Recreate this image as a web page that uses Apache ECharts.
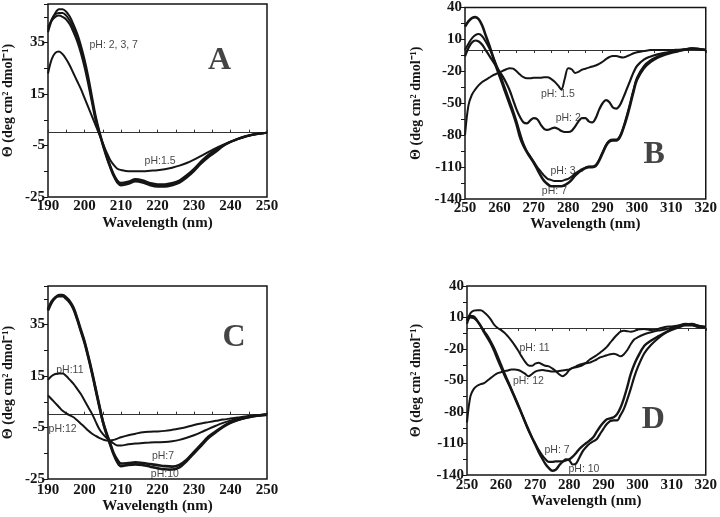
<!DOCTYPE html>
<html>
<head>
<meta charset="utf-8">
<script src="https://cdn.jsdelivr.net/npm/echarts@6/dist/echarts.min.js"></script>
<style>html,body{margin:0;padding:0;background:#fff;}#c{width:720px;height:517px;}</style>
</head>
<body>
<div id="c"></div>
<script>
// ---------- Panel A / C (far-UV) ----------
const xFar = [190,191,192,193,194,195,196,197,198,199,200,201,202,203,204,205,206,207,208,209,210,212,214,216,218,220,222,224,226,228,230,232,234,236,238,240,242,244,246,248,250];
const A_pH2  = [39,43.5,46.5,48,48,47,45,42,38.5,34,28.5,22,14.5,7,1,-4,-8.5,-12.5,-16,-18.5,-19.5,-19,-18,-18.5,-19.5,-20,-20,-19.5,-18.5,-16.5,-14,-11,-8.5,-6.5,-4.8,-3.5,-2.3,-1.4,-0.7,-0.3,0];
const A_pH3  = [40,44,46,46.5,46.5,45.5,43.5,40.5,37,32.5,27,20.5,13,6,0.5,-4.5,-9,-13,-16.5,-19,-20,-19.5,-18.5,-19,-20,-20.5,-20.5,-20,-19,-17,-14.5,-11.5,-9,-7,-5,-3.6,-2.4,-1.5,-0.8,-0.3,0];
const A_pH7  = [41,43.5,45,45.5,45,44,42,39,35.5,31,25.5,19,12,5,0,-5,-9.5,-13.5,-17,-19.5,-20.5,-20,-19,-19.5,-20.5,-21,-21,-20.5,-19.5,-17.5,-15,-12,-9.5,-7.5,-5.2,-3.7,-2.5,-1.6,-0.8,-0.3,0];
const A_pH15 = [23,28.5,31,31.5,30.5,28.5,26,23,20,17,13.5,10,6.5,3,-0.5,-4,-7.5,-10.5,-12.5,-14,-14.5,-15,-15,-15,-14.8,-14.6,-14.2,-13.6,-12.8,-11.8,-10.5,-9,-7.5,-6,-4.7,-3.5,-2.5,-1.6,-0.9,-0.4,0];

const C_pH7  = [41,44,45.5,46,46,45,43.5,41,37,32.5,28,22.5,16.5,10,3.5,-2.5,-7,-11,-15,-17.5,-19,-18.8,-18.5,-18.8,-19.2,-19.6,-20,-20.2,-19.5,-17.5,-14.5,-11.5,-8.5,-6.5,-4.5,-3,-2,-1.2,-0.6,-0.2,0];
const C_pH10 = [40.5,43.5,45.5,46.5,46.5,45.5,44,41.5,37.5,33,28.5,23,17,10.5,4,-2.5,-7.5,-11.5,-15.5,-18.5,-20,-19.5,-19.3,-19.6,-20.2,-20.8,-21.2,-21.3,-20.5,-18,-15,-12,-9,-6.8,-4.8,-3.2,-2.1,-1.3,-0.7,-0.3,0];
const C_pH11 = [13.5,15,15.8,16,16,15,13.5,12,10,8,5.5,3,0.5,-2.5,-5.5,-7.5,-9,-10.2,-11.2,-12,-12,-11.5,-11.2,-11,-10.8,-10.7,-10.6,-10.3,-9.8,-9,-8,-6.8,-5.5,-4.3,-3.2,-2.3,-1.5,-1,-0.5,-0.2,0];
const C_pH12 = [7.5,6,4.5,3,1.5,0.5,-0.3,-1,-2.2,-3.5,-4.8,-6.2,-7.3,-8.2,-9,-9.6,-10,-10,-9.8,-9.3,-8.8,-8,-7.4,-6.8,-6.6,-6.5,-6.3,-5.9,-5.4,-4.8,-4,-3.4,-2.9,-2.4,-1.9,-1.5,-1.1,-0.7,-0.4,-0.2,0];

// ---------- Panel B / D (near-UV) ----------
const xNear = [250,251,252,253,254,255,256,257,258,259,260,261,262,263,264,265,266,267,268,269,270,271,272,273,274,275,276,277,278,279,280,281,282,283,284,285,286,287,288,289,290,291,292,293,294,295,296,297,298,299,300,302,304,306,308,310,312,314,316,318,320];
const B_pH7  = [22,27,30,31,29,23,14,5,-5,-15,-24,-33,-42,-51,-60,-70,-82,-90,-96,-101,-106,-112,-118,-123,-126,-128,-128,-128,-128,-127,-125,-122,-118,-115,-113,-111,-110,-110,-109,-104,-97,-90,-86,-85,-85,-82,-74,-64,-52,-39,-28,-17,-11,-7,-4.5,-2.5,-1,0.5,1.5,1,0];
const B_pH3  = [0,6,11,14,15,13,8,2,-5,-13,-21,-30,-39,-48,-57,-67,-78,-88,-95,-100,-105,-110,-114,-118,-121,-122,-123,-123,-123,-122,-121,-119,-116,-114,-112,-110.5,-109.5,-109.5,-108,-103,-96,-89,-85,-84,-84,-81,-73,-62,-50,-37,-26,-15,-9.5,-6,-3.5,-2,-0.5,0.8,1.5,1,0];
const B_pH2  = [-6,2,7,9,8,5,0,-5,-10,-15,-20,-25,-31,-38,-47,-56,-63,-68,-69,-66,-64,-65,-70,-74,-75,-74,-73,-74,-76,-77,-77,-76,-72,-67,-64,-64,-67,-68,-64,-56,-50,-47,-49,-54,-55,-52,-45,-37,-29,-21,-15,-9,-6,-4,-2.5,-1.5,-0.5,0.5,1.5,1,0];
const B_pH15 = [-80,-52,-42,-37,-33,-30,-28,-26,-24,-22.5,-21,-19.5,-18,-17,-17.5,-20,-23,-25.5,-26.5,-26.5,-26,-26,-26,-25.5,-25.5,-27,-29.5,-33,-37,-27,-17,-18,-21.5,-20.5,-18.5,-17.5,-16.5,-15.5,-14.5,-13,-11,-8.5,-6.5,-5.5,-5.5,-6.5,-7,-6,-4.5,-3,-2,-1,0,0,0,0,0.3,0.6,1,0.8,0];

const D_pH7  = [7,11.5,11,7,2,-4,-9.5,-15,-22,-30,-37.5,-45,-52,-59,-66.5,-74,-81.5,-89,-96.5,-104,-111,-118,-124,-129.5,-133.5,-136,-135,-131,-127.5,-126,-125,-122.5,-119,-115,-112,-109.5,-107,-104,-99,-94,-90,-87,-86,-85,-82,-76,-67,-56,-44,-35,-28,-17,-12,-8,-4.5,-1,2,3.5,3.5,1.5,0.5];
const D_pH10 = [4,10,9.5,6.5,2,-3,-7.5,-13,-19.5,-27,-35,-43,-50.5,-58,-65.5,-73,-81,-89.5,-97.5,-104,-110,-116,-121,-125,-127.5,-127.5,-127,-127,-127,-125,-126,-130,-129,-123,-117,-113,-110,-108,-106,-101,-96,-91.5,-88.5,-88,-88,-83,-77,-68,-58,-47,-38,-24,-16,-10,-5,-2,0.5,2.5,2.5,2,1];
const D_pH11 = [7,14,16.5,17,17,15,12,8,3,0,-2,-4.5,-8,-12,-16.5,-21.5,-27,-32,-35.5,-36,-34,-33,-34.5,-36,-36.5,-38.5,-41,-44,-46,-44,-40,-38,-37.5,-36.5,-35,-33,-30,-28,-26,-23.5,-21,-18,-14,-10,-6.5,-3.5,-2.5,-3,-3.5,-3,-1.5,-1,-2,-1,1,1.5,2.5,4,3,0.5,1];
const D_pH12 = [-90,-65,-58,-55,-53.5,-52.5,-50,-47.5,-45,-43,-42,-41,-40.5,-39.5,-39.5,-40,-41.5,-43.5,-46,-44,-41.5,-40.5,-40,-40.5,-41,-41.5,-41.5,-41,-40.5,-40,-39.5,-38,-36.5,-35,-34,-33.5,-33,-31.5,-30,-28,-27,-26,-25,-24.5,-25.5,-27,-25,-21,-15.5,-11,-9,-6,-4,-2.5,-1.5,0.3,1.5,3.5,4,2,1];

// ---------- Text annotations [text, x, y] ----------
const A_notes = [["pH: 2, 3, 7",208,34],["pH:1.5",220.7,-11.2]];
const B_notes = [["pH: 1.5",277,-41],["pH: 2",280,-64],["pH: 3",278.5,-114],["pH: 7",276,-133]];
const C_notes = [["pH:11",196,17.5],["pH:12",194,-5.5],["pH:7",221.5,-16],["pH:10",222,-23.2]];
const D_notes = [["pH: 11",269.8,-19.5],["pH: 12",268,-51],["pH: 7",276.4,-116.5],["pH: 10",284.3,-134]];
const panelLetters = [["A",237,28],["B",305,-98],["C",241,30],["D",304.6,-87]];

const farTicks = ["-25","-5","15","35"];
const nearTicks = ["-140","-110","-80","-50","-20","10","40"];
const xTitle = "Wavelength (nm)";
const yTitle = "\u0398 (deg cm\u00B2 dmol\u207B\u00B9)";

// ---------- Build options ----------
const serif = "Liberation Serif";
const sans = "Liberation Sans";
const ink = "#151515";

const grids = [
  {left:41, top:4, width:226, height:193},
  {left:465, top:7, width:244, height:192},
  {left:41, top:286, width:226, height:193},
  {left:467, top:286, width:243, height:189}
];
const panelCfg = [
  {far:true, labMargin:2, nameGap:19, yGap:33, zeroInside:false},
  {far:false, labMargin:2, nameGap:18, yGap:42, zeroInside:true},
  {far:true, labMargin:4, nameGap:18, yGap:33, zeroInside:false},
  {far:false, labMargin:3, nameGap:19, yGap:44, zeroInside:true}
];

const xAxes = [], yAxes = [];
panelCfg.forEach((p, i) => {
  const xmin = p.far ? 190 : 250, xmax = p.far ? 250 : 320;
  xAxes.push({
    gridIndex:i, type:'value', min:xmin, max:xmax, interval:10, position:'bottom',
    axisLine:{show:false, onZero:false}, axisTick:{show:false}, splitLine:{show:false},
    axisLabel:{margin:p.labMargin, fontFamily:serif, fontWeight:'bold', fontSize:15, color:ink},
    name:xTitle, nameLocation:'middle', nameGap:p.nameGap,
    nameTextStyle:{fontFamily:serif, fontWeight:'bold', fontSize:15, color:ink}
  });
  xAxes.push({
    gridIndex:i, type:'value', min:xmin, max:xmax, interval:5, position:'top',
    axisLine:{show:true, onZero:true, lineStyle:{color:'#333', width:1}},
    axisTick:{show:true, inside:p.zeroInside, length:3, lineStyle:{color:'#333', width:1}},
    axisLabel:{show:false}, splitLine:{show:false}
  });
  const ticks = p.far ? farTicks : nearTicks;
  yAxes.push({
    gridIndex:i, type:'value',
    min: p.far ? -25 : -140, max: p.far ? 50 : 40, interval: p.far ? 10 : 15,
    axisLine:{show:false, onZero:false},
    axisTick:{show:true, length:4, lineStyle:{color:ink, width:1}},
    splitLine:{show:false},
    axisLabel:{margin:3, fontFamily:serif, fontWeight:'bold', fontSize:15, color:ink,
      formatter: v => ticks.indexOf(String(v)) >= 0 ? String(v) : ''},
    name:yTitle, nameLocation:'middle', nameGap:p.yGap,
    nameTextStyle:{fontFamily:serif, fontWeight:'bold', fontSize:14, color:ink}
  });
});

function line(panel, xs, ys, width) {
  return {
    type:'line', xAxisIndex:panel*2, yAxisIndex:panel, showSymbol:false, symbol:'none',
    smooth:0.35, data: xs.map((x, k) => [x, ys[k]]),
    lineStyle:{color:ink, width:width}, silent:true, z:3
  };
}
function notes(panel, arr, size, fam, bold) {
  return {
    type:'scatter', xAxisIndex:panel*2, yAxisIndex:panel, symbolSize:1,
    itemStyle:{color:'rgba(0,0,0,0)'}, silent:true, z:5,
    data: arr.map(a => ({name:a[0], value:[a[1], a[2]]})),
    label:{show:true, position:'inside', formatter:'{b}', color:ink,
      fontFamily:fam, fontSize:size, fontWeight: bold ? 'bold' : 'normal'}
  };
}

const series = [
  line(0, xFar, A_pH2, 2), line(0, xFar, A_pH3, 2), line(0, xFar, A_pH7, 2), line(0, xFar, A_pH15, 2),
  line(1, xNear, B_pH7, 2.6), line(1, xNear, B_pH3, 2), line(1, xNear, B_pH2, 2.2), line(1, xNear, B_pH15, 2),
  line(2, xFar, C_pH7, 2.6), line(2, xFar, C_pH10, 2.6), line(2, xFar, C_pH11, 2), line(2, xFar, C_pH12, 2),
  line(3, xNear, D_pH7, 2.4), line(3, xNear, D_pH10, 2.2), line(3, xNear, D_pH11, 2), line(3, xNear, D_pH12, 2),
  notes(0, A_notes, 10.5, sans, false), notes(1, B_notes, 10.5, sans, false),
  notes(2, C_notes, 10.5, sans, false), notes(3, D_notes, 10.5, sans, false)
];
panelLetters.forEach((l, i) => series.push(notes(i, [l], 32, serif, true)));

const chart = echarts.init(document.getElementById('c'), null, {renderer:'canvas'});
chart.setOption({
  animation:false,
  backgroundColor:'#fff',
  grid: grids.map(g => Object.assign({show:true, borderColor:ink, borderWidth:1.5, backgroundColor:'transparent', containLabel:false}, g)),
  xAxis:xAxes, yAxis:yAxes, series:series
});
</script>
</body>
</html>
